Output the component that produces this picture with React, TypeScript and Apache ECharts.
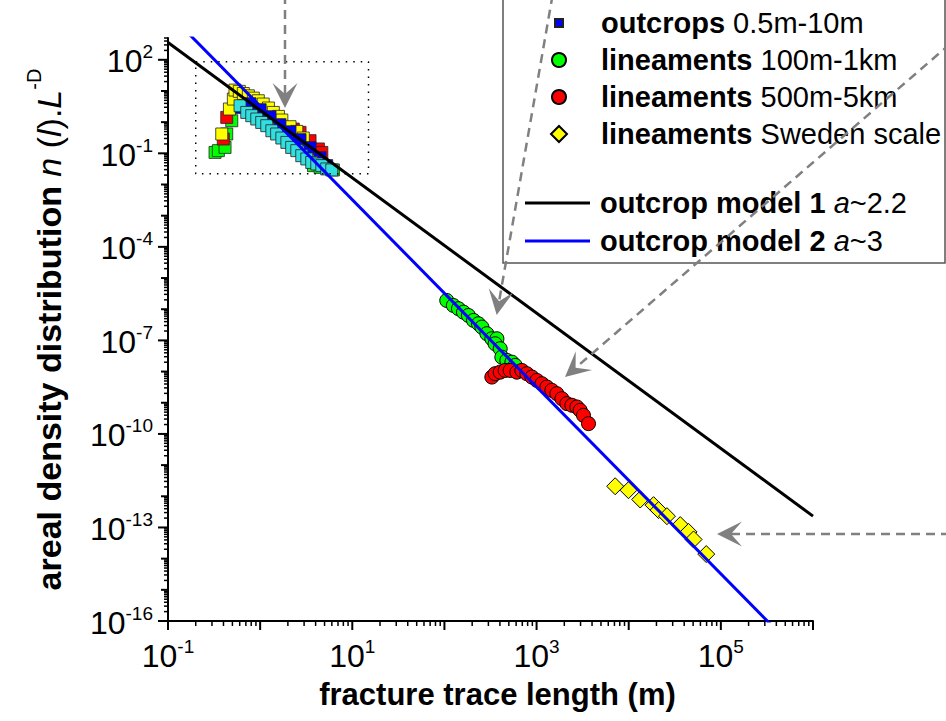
import React, { useEffect, useRef } from "react";
import * as echarts from "echarts";

const FONT = "'Liberation Sans', Arial, Helvetica, sans-serif";

// axis ranges (decades)
const X_MIN_EXP = -1;
const X_MAX_EXP = 6;
const Y_MIN_EXP = -16;
const Y_MAX_VALUE = 500;

const xLabelExps = [-1, 1, 3, 5];
const yLabelExps = [-16, -13, -10, -7, -4, -1, 2];
const minorMultipliers = [2, 3, 4, 5, 6, 7, 8, 9];

// [fracture trace length (m), areal density distribution]
const outcropsGreen: number[][] = [
  [0.324, 0.107], [0.352, 0.122], [0.416, 0.155], [0.434, 0.417], [0.492, 1.11],
  [1.0, 2.0], [2.11, 0.295], [3.79, 0.0403], [4.47, 0.0355], [6.24, 0.0293],
];
const outcropsRed: number[][] = [
  [0.398, 0.288], [0.434, 1.42], [0.605, 4.86], [0.716, 6.2], [0.844, 3.81],
  [1.18, 2.05], [1.64, 0.98], [2.29, 0.6], [2.71, 0.47], [3.48, 0.255],
  [4.29, 0.138], [4.67, 0.107],
];
const outcropsYellow: number[][] = [
  [0.383, 0.417], [0.464, 2.64], [0.512, 5.5], [0.533, 10.7], [0.594, 9.7],
  [0.657, 8.3], [0.745, 7.0], [0.844, 5.9], [0.955, 4.86], [1.08, 3.81],
  [1.23, 2.84], [1.39, 2.05], [1.58, 1.53], [1.72, 1.17], [2.11, 0.714],
  [2.5, 0.505], [2.94, 0.31],
];
const outcropsBlue: number[][] = [
  [0.631, 2.97], [0.776, 3.9], [1.0, 2.5], [1.28, 1.49], [1.64, 0.83],
  [2.11, 0.49], [2.71, 0.274], [3.48, 0.152], [4.47, 0.0726], [5.28, 0.0403],
];
const outcropsCyan: number[][] = [
  [0.605, 3.36], [0.716, 2.05], [0.811, 1.61], [0.919, 1.26], [1.04, 0.98],
  [1.18, 0.77], [1.34, 0.53], [1.51, 0.417], [1.72, 0.31], [1.95, 0.224],
  [2.2, 0.155], [2.5, 0.122], [2.83, 0.084], [3.21, 0.066], [3.63, 0.051],
  [4.12, 0.0456], [4.67, 0.0403], [5.28, 0.0316], [5.99, 0.0293],
];
const lineaments100m1km: number[][] = [
  [106, 1.91e-6], [125, 1.32e-6], [142, 1.04e-6], [161, 8.05e-7], [182, 6.3e-7],
  [207, 4.37e-7], [234, 3.42e-7], [255, 2.66e-7], [289, 1.64e-7], [327, 1.13e-7],
  [371, 1.13e-7], [355, 7.8e-8], [403, 5.4e-8], [420, 2.9e-8], [476, 2.29e-8],
  [540, 2.0e-8], [586, 1.58e-8],
];
const lineaments500m5km: number[][] = [
  [327, 6.67e-9], [355, 8.57e-9], [403, 9.6e-9], [456, 1.09e-8], [517, 1.09e-8],
  [611, 9.6e-9], [692, 1.09e-8], [785, 8.57e-9], [890, 6.67e-9], [1008, 5.2e-9],
  [1143, 4.1e-9], [1294, 3.19e-9], [1466, 2.5e-9], [1661, 1.96e-9], [1883, 1.35e-9],
  [2133, 9.4e-10], [2416, 8.3e-10], [2739, 7.3e-10], [2974, 5.7e-10], [3230, 3.95e-10],
  [3661, 2.14e-10],
];
const lineamentsSweden: number[][] = [
  [7130, 2.1e-12], [9950, 1.57e-12], [13330, 7.9e-13], [18600, 5.2e-13], [21100, 3.6e-13],
  [26000, 2.3e-13], [36250, 1.19e-13], [44600, 7.2e-14], [50550, 4.13e-14], [69400, 1.4e-14],
];
const model1: number[][] = [[0.1, 358], [1e6, 2.31e-13]];
const model2: number[][] = [[0.1, 3250], [1e6, 3.25e-18]];
const zoomBox: number[][] = [[0.2, 87], [15, 87], [15, 0.022], [0.2, 0.022], [0.2, 87]];

const legendRows = [
  { name: "outcrops 0.5m-10m", label: "{b|outcrops} 0.5m-10m", y: 23, icon: "rect", size: 8 },
  { name: "lineaments 100m-1km", label: "{b|lineaments} 100m-1km", y: 60, icon: "circle", size: 14 },
  { name: "lineaments 500m-5km", label: "{b|lineaments} 500m-5km", y: 97, icon: "circle", size: 14 },
  { name: "lineaments Sweden scale", label: "{b|lineaments} Sweden scale", y: 134, icon: "diamond", size: 16 },
  { name: "outcrop model 1 a~2.2", label: "{b|outcrop model 1} {i|a}~2.2", y: 203, icon: "line", size: 0 },
  { name: "outcrop model 2 a~3", label: "{b|outcrop model 2} {i|a}~3", y: 241, icon: "line", size: 0 },
];

const lg = (pts: number[][]) => pts.map(([x, y]) => [Math.log10(x), Math.log10(y)]);

function arrow(fromX: number, fromY: number, tipX: number, tipY: number) {
  const dx = fromX - tipX;
  const dy = fromY - tipY;
  const L = Math.hypot(dx, dy);
  const ux = dx / L;
  const uy = dy / L;
  const px = -uy;
  const py = ux;
  const len = 25;
  const half = 12.5;
  const notch = 14;
  const color = "#808080";
  return [
    {
      type: "line",
      z: 100,
      silent: true,
      shape: { x1: fromX, y1: fromY, x2: tipX + ux * notch, y2: tipY + uy * notch },
      style: { stroke: color, lineWidth: 2.5, lineDash: [9, 6] },
    },
    {
      type: "polygon",
      z: 100,
      silent: true,
      shape: {
        points: [
          [tipX, tipY],
          [tipX + ux * len + px * half, tipY + uy * len + py * half],
          [tipX + ux * notch, tipY + uy * notch],
          [tipX + ux * len - px * half, tipY + uy * len - py * half],
        ],
      },
      style: { fill: color },
    },
  ];
}

function legendFor(r: (typeof legendRows)[number]) {
  const ICON_CX = 558;
  const TEXT_X = 600;
  const isLine = r.icon === "line";
  const w = isLine ? 65 : r.size;
  const h = isLine ? 3 : r.size;
  const left = isLine ? 525 : ICON_CX - r.size / 2;
  const gap = Math.max(1, TEXT_X - (left + w + 5));
  return {
    data: [{ name: r.name, icon: isLine ? "rect" : r.icon }],
    left,
    top: r.y - 16,
    padding: 0,
    itemGap: 0,
    itemWidth: w,
    itemHeight: h,
    selectedMode: false,
    formatter: () => `{g| }${r.label}`,
    textStyle: {
      fontFamily: FONT,
      fontSize: 29,
      lineHeight: 32,
      color: "#000",
      rich: {
        g: { width: gap, fontSize: 10, lineHeight: 32 },
        b: { fontFamily: FONT, fontSize: 29, lineHeight: 32, fontWeight: "bold", color: "#000" },
        i: { fontFamily: FONT, fontSize: 29, lineHeight: 32, fontStyle: "italic", color: "#000" },
      },
    },
  };
}

export default function App() {
  const ref = useRef<HTMLDivElement>(null);
  useEffect(() => {
    document.body.style.margin = "0";
    if (!ref.current) return;
    const chart = echarts.init(ref.current, undefined, { renderer: "svg" });
    const yMaxExp = Math.log10(Y_MAX_VALUE);

    const yTicks: number[][] = [];
    for (let e = Y_MIN_EXP; e <= 2; e++) {
      yTicks.push([e, (e - Y_MIN_EXP) % 3 === 0 ? 10 : 7, 2]);
      for (const m of minorMultipliers) {
        const v = e + Math.log10(m);
        if (v <= yMaxExp + 1e-9) yTicks.push([v, 4, 1.5]);
      }
    }
    const xTicks: number[][] = [];
    for (let e = X_MIN_EXP; e <= X_MAX_EXP; e++) {
      xTicks.push([e, 9, 2]);
      if (e < X_MAX_EXP) for (const m of minorMultipliers) xTicks.push([e + Math.log10(m), 5, 1.5]);
    }

    const labelRich = {
      b: { fontFamily: FONT, fontSize: 32, lineHeight: 35, verticalAlign: "bottom", color: "#000" },
      s: { fontFamily: FONT, fontSize: 19, lineHeight: 19, verticalAlign: "top", color: "#000" },
    };

    const sq = (name: string, data: number[][], color: string) => ({
      name,
      type: "scatter",
      data: lg(data),
      symbol: "rect",
      symbolSize: 12,
      itemStyle: { color, borderColor: "#222", borderWidth: 0.8, opacity: 1 },
      silent: true,
    });

    const option: any = {
      animation: false,
      backgroundColor: "#fff",
      grid: { left: 168, right: 133, top: 38, bottom: 100, containLabel: false },
      xAxis: {
        type: "value",
        min: X_MIN_EXP,
        max: X_MAX_EXP,
        interval: 1,
        axisLine: { show: true, onZero: false, lineStyle: { color: "#000", width: 2 } },
        axisTick: { show: false },
        splitLine: { show: false },
        axisLabel: {
          margin: 16,
          formatter: (v: number) => (xLabelExps.includes(v) ? `{b|10}{s|${v}}` : ""),
          rich: labelRich,
        },
        name: "fracture trace length (m)",
        nameLocation: "middle",
        nameGap: 50,
        nameTextStyle: {
          fontFamily: FONT,
          fontSize: 31,
          fontWeight: "bold",
          color: "#000",
          lineHeight: 36,
          padding: [0, 0, 0, 14],
        },
      },
      yAxis: {
        type: "value",
        min: Y_MIN_EXP,
        max: yMaxExp,
        interval: 3,
        axisLine: { show: true, onZero: false, lineStyle: { color: "#000", width: 2 } },
        axisTick: { show: false },
        splitLine: { show: false },
        axisLabel: {
          margin: 15,
          formatter: (v: number) => (yLabelExps.includes(v) ? `{b|10}{s|${v}}` : ""),
          rich: labelRich,
        },
        name: "{b|areal density distribution }{i|n}{r| (}{i|l}{r|).}{i|L}{s|-D}",
        nameLocation: "middle",
        nameRotate: 90,
        nameGap: 102,
        nameTextStyle: {
          color: "#000",
          rich: {
            b: { fontFamily: FONT, fontSize: 34, fontWeight: "bold", lineHeight: 42, verticalAlign: "bottom", color: "#000" },
            i: { fontFamily: FONT, fontSize: 34, fontStyle: "italic", lineHeight: 42, verticalAlign: "bottom", color: "#000" },
            r: { fontFamily: FONT, fontSize: 34, lineHeight: 42, verticalAlign: "bottom", color: "#000" },
            s: { fontFamily: FONT, fontSize: 20, lineHeight: 22, verticalAlign: "top", color: "#000" },
          },
        },
      },
      legend: legendRows.map(legendFor),
      graphic: {
        elements: [
          {
            type: "rect",
            z: 0,
            silent: true,
            shape: { x: 503, y: -5, width: 442, height: 268 },
            style: { fill: "transparent", stroke: "#555", lineWidth: 1.5 },
          },
          ...arrow(285, -5, 285, 108),
          ...arrow(552.6, -5, 496.7, 315),
          ...arrow(950, 44, 565, 377),
          ...arrow(950, 534, 717, 534),
        ],
      },
      series: [
        sq("outcrops set A", outcropsGreen, "#00ff00"),
        sq("outcrops set B", outcropsRed, "#ff0000"),
        sq("outcrops set C", outcropsYellow, "#ffff00"),
        sq("outcrops 0.5m-10m", outcropsBlue, "#0000ff"),
        sq("outcrops set D", outcropsCyan, "#33dede"),
        {
          name: "lineaments 100m-1km",
          type: "scatter",
          data: lg(lineaments100m1km),
          symbol: "circle",
          symbolSize: 14,
          itemStyle: { color: "#00ff00", borderColor: "#000", borderWidth: 1, opacity: 1 },
          silent: true,
        },
        {
          name: "lineaments 500m-5km",
          type: "scatter",
          data: lg(lineaments500m5km),
          symbol: "circle",
          symbolSize: 14,
          itemStyle: { color: "#ff0000", borderColor: "#000", borderWidth: 1, opacity: 1 },
          silent: true,
        },
        {
          name: "lineaments Sweden scale",
          type: "scatter",
          data: lg(lineamentsSweden),
          symbol: "diamond",
          symbolSize: 17,
          itemStyle: { color: "#ffff00", borderColor: "#000", borderWidth: 1, opacity: 1 },
          silent: true,
        },
        {
          name: "outcrop model 2 a~3",
          type: "line",
          data: lg(model2),
          symbol: "none",
          lineStyle: { color: "#0000ff", width: 3 },
          itemStyle: { color: "#0000ff" },
          silent: true,
        },
        {
          name: "outcrop model 1 a~2.2",
          type: "line",
          data: lg(model1),
          symbol: "none",
          lineStyle: { color: "#000", width: 3 },
          itemStyle: { color: "#000" },
          silent: true,
        },
        {
          name: "zoom box",
          type: "line",
          data: lg(zoomBox),
          symbol: "none",
          lineStyle: { color: "#000", width: 1.5, type: [1.5, 6] },
          silent: true,
        },
        {
          name: "y ticks",
          type: "custom",
          silent: true,
          data: yTicks,
          renderItem: (_p: any, api: any) => {
            const v = api.value(0);
            const len = api.value(1);
            const w = api.value(2);
            const p = api.coord([X_MIN_EXP, v]);
            return {
              type: "line",
              shape: { x1: p[0] - len, y1: p[1], x2: p[0], y2: p[1] },
              style: { stroke: "#000", lineWidth: w },
            };
          },
        },
        {
          name: "x ticks",
          type: "custom",
          silent: true,
          data: xTicks,
          renderItem: (_p: any, api: any) => {
            const v = api.value(0);
            const len = api.value(1);
            const w = api.value(2);
            const p = api.coord([v, Y_MIN_EXP]);
            return {
              type: "line",
              shape: { x1: p[0], y1: p[1], x2: p[0], y2: p[1] + len },
              style: { stroke: "#000", lineWidth: w },
            };
          },
        },
      ],
    };
    chart.setOption(option);
    return () => chart.dispose();
  }, []);
  return <div ref={ref} style={{ width: 946, height: 721 }} />;
}
